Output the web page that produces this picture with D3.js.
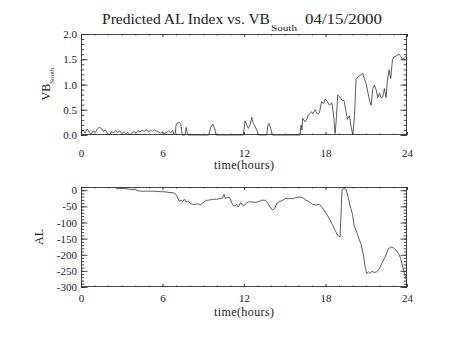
<!DOCTYPE html>
<html><head><meta charset="utf-8">
<script src="https://cdn.jsdelivr.net/npm/d3@7"></script>
<style>
html,body{margin:0;padding:0;background:#fff;}
svg{display:block;}
text{font-family:"Liberation Serif","DejaVu Serif",serif;fill:#222;}
</style></head>
<body>
<script>
// ---------------- data ----------------
const titleMain = "Predicted AL Index vs. VB";
const titleSub = "South";
const titleDate = "04/15/2000";
const xLabel = "time(hours)";
const xTicks = [0, 6, 12, 18, 24];
const vbTicks = [0.0, 0.5, 1.0, 1.5, 2.0];
const alTicks = [-300, -250, -200, -150, -100, -50, 0];

const vbTime = [0.0,0.15,0.3,0.45,0.6,0.75,0.9,1.05,1.2,1.35,1.5,1.65,1.8,1.95,2.1,2.25,2.4,2.55,2.7,2.85,
  3.0,3.15,3.3,3.45,3.6,3.75,3.9,4.05,4.2,4.35,4.5,4.65,4.8,4.95,5.1,5.25,5.4,5.55,5.7,5.85,
  6.0,6.15,6.3,6.45,6.6,6.75,6.85,6.95,7.0,7.1,7.25,7.35,7.45,7.65,7.75,7.85,9.4,9.55,9.7,9.85,9.95,
  11.95,12.08,12.2,12.32,12.45,12.57,12.69,12.81,12.94,13.06,13.67,13.77,13.85,13.97,14.09,
  16.12,16.2,16.27,16.32,16.5,16.62,16.74,16.86,16.98,17.06,17.23,17.4,17.55,17.72,17.85,17.97,
  18.14,18.29,18.46,18.58,18.71,18.78,18.9,19.07,19.2,19.37,19.51,19.61,19.76,19.88,20.01,
  20.13,20.25,20.42,20.6,20.74,20.87,20.99,21.11,21.23,21.36,21.48,21.6,21.73,21.85,21.97,
  22.09,22.22,22.34,22.46,22.56,22.68,22.8,22.93,23.05,23.24,23.41,23.54,23.66,23.78,23.91,24.0];
const vbValue = [0.05,0.10,0.04,0.12,0.06,0.02,0.08,0.05,0.12,0.15,0.13,0.07,0.10,0.02,0.00,0.07,0.04,0.09,0.05,0.08,
  0.03,0.06,0.02,0.05,0.00,0.04,0.07,0.04,0.09,0.06,0.10,0.07,0.11,0.06,0.09,0.07,0.10,0.08,0.06,0.04,
  0.06,0.03,0.05,0.08,0.04,0.09,0.00,0.04,0.20,0.24,0.25,0.22,0.00,0.00,0.15,0.00,0.00,0.15,0.22,0.12,0.00,
  0.00,0.28,0.20,0.13,0.20,0.35,0.23,0.17,0.10,0.00,0.00,0.20,0.23,0.13,0.00,
  0.00,0.20,0.10,0.33,0.26,0.31,0.40,0.43,0.46,0.42,0.50,0.42,0.44,0.66,0.62,0.71,
  0.66,0.59,0.64,0.43,0.03,0.26,0.79,0.75,0.69,0.68,0.46,0.31,0.38,0.17,0.00,
  0.36,1.10,1.16,1.19,1.22,1.10,1.02,0.86,0.69,0.59,0.92,0.99,0.89,0.74,0.83,
  0.74,0.76,0.92,0.74,1.09,1.29,1.12,1.49,1.55,1.57,1.60,1.56,1.49,1.52,1.55,1.52];

const alTime = [2.58,2.87,3.24,3.61,3.98,4.23,4.47,4.84,5.33,5.7,6.19,6.55,6.8,7.0,7.09,7.24,7.36,7.48,7.61,7.73,
  7.9,8.07,8.22,8.39,8.59,8.76,8.96,9.13,9.3,9.5,9.74,9.99,10.23,10.43,10.53,10.63,10.77,10.92,11.07,11.17,
  11.31,11.46,11.58,11.76,11.95,12.15,12.32,12.57,12.81,13.06,13.3,13.55,13.72,13.92,14.1,14.26,14.41,14.6,14.85,15.02,
  15.27,15.64,15.88,16.12,16.37,16.57,16.82,17.06,17.31,17.55,17.72,17.97,18.21,18.46,18.71,18.88,19.07,19.15,19.22,19.37,
  19.51,19.63,19.8,20.0,20.1,20.25,20.42,20.6,20.79,20.92,21.04,21.16,21.28,21.41,21.58,21.78,21.97,22.14,22.39,22.63,
  22.8,23.0,23.2,23.37,23.54,23.69,23.81,23.93];
const alValue = [5,5,5,3,2,-2,-3,-3,-3,-4,-5,-7,-8,-13,-21,-34,-31,-36,-28,-36,
  -34,-41,-44,-44,-42,-46,-40,-34,-31,-30,-28,-28,-26,-24,-13,-26,-22,-22,-36,-46,
  -49,-44,-52,-38,-49,-41,-36,-36,-38,-36,-31,-31,-38,-52,-62,-57,-41,-36,-31,-26,
  -26,-26,-22,-21,-24,-31,-36,-44,-46,-44,-52,-67,-83,-103,-124,-139,-145,-67,3,5,
  3,-15,-46,-77,-108,-124,-145,-165,-201,-238,-258,-253,-258,-251,-255,-253,-243,-227,-207,-181,
  -176,-179,-186,-196,-212,-238,-258,-276];

// ---------------- layout ----------------
const W = 454, H = 341;
const L = 81, R = 407;
const INK = "#333";
const svg = d3.select("body").append("svg").attr("width", W).attr("height", H);

function panel(top, bottom, yDomain, yMajor, yMinorStep, yFmt, times, values, tickPad) {
  const x = d3.scaleLinear().domain([0, 24]).range([L, R]);
  const y = d3.scaleLinear().domain(yDomain).range([bottom, top]);
  const g = svg.append("g");
  const xMinor = d3.range(0, 24.001, 1);
  const yMinor = d3.range(yDomain[0], yDomain[1] + 1e-9, yMinorStep);
  const minorX = 1.5, majorX = 3, minorY = 3.3, majorY = 6.5;

  g.append("g").attr("transform", `translate(0,${bottom})`)
    .call(d3.axisBottom(x).tickValues(xMinor).tickSizeInner(-minorX).tickSizeOuter(0).tickFormat(""));
  g.append("g").attr("transform", `translate(0,${top})`)
    .call(d3.axisTop(x).tickValues(xMinor).tickSizeInner(-minorX).tickSizeOuter(0).tickFormat(""));
  g.append("g").attr("transform", `translate(${L},0)`)
    .call(d3.axisLeft(y).tickValues(yMinor).tickSizeInner(-minorY).tickSizeOuter(0).tickFormat(""));
  g.append("g").attr("transform", `translate(${R},0)`)
    .call(d3.axisRight(y).tickValues(yMinor).tickSizeInner(-minorY).tickSizeOuter(0).tickFormat(""));
  g.append("g").attr("transform", `translate(0,${bottom})`)
    .call(d3.axisBottom(x).tickValues(xTicks).tickSizeInner(-majorX).tickSizeOuter(0).tickPadding(tickPad).tickFormat(d3.format("d")));
  g.append("g").attr("transform", `translate(0,${top})`)
    .call(d3.axisTop(x).tickValues(xTicks).tickSizeInner(-majorX).tickSizeOuter(0).tickFormat(""));
  g.append("g").attr("transform", `translate(${L},0)`)
    .call(d3.axisLeft(y).tickValues(yMajor).tickSizeInner(-majorY).tickSizeOuter(0).tickPadding(4).tickFormat(yFmt));
  g.append("g").attr("transform", `translate(${R},0)`)
    .call(d3.axisRight(y).tickValues(yMajor).tickSizeInner(-majorY).tickSizeOuter(0).tickFormat(""));
  g.selectAll(".domain").remove();
  g.selectAll(".tick line").attr("stroke", INK).attr("stroke-width", 0.9);
  g.selectAll(".tick text").style("font-family", "Liberation Serif, serif").style("font-size", "11px").attr("fill", "#222");

  g.append("rect").attr("x", L + 0.5).attr("y", top + 0.5).attr("width", R - L - 1).attr("height", bottom - top - 1)
    .attr("fill", "none").attr("stroke", INK).attr("stroke-width", 0.9);

  const pts = times.map((t, i) => [t, values[i]]);
  g.append("path").datum(pts)
    .attr("d", d3.line().x(d => x(d[0])).y(d => y(d[1])))
    .attr("fill", "none").attr("stroke", INK).attr("stroke-width", 0.8)
    .attr("stroke-linejoin", "round");
  return {x, y};
}

panel(34, 135, [0, 2], vbTicks, 0.1, d3.format(".1f"), vbTime, vbValue, 14);
panel(187, 287, [-300, 10], alTicks, 10, d => d3.format("d")(d).replace("−", "-"), alTime, alValue, 7);

svg.append("text").attr("x", 244).attr("y", 169).attr("text-anchor", "middle")
  .style("font-size", "12px").attr("textLength", 60).text(xLabel);
svg.append("text").attr("x", 244).attr("y", 316).attr("text-anchor", "middle")
  .style("font-size", "12px").attr("textLength", 60).text(xLabel);

const vb = svg.append("text").attr("transform", "translate(50,84) rotate(-90)").attr("text-anchor", "middle")
  .style("font-size", "12px");
vb.append("tspan").text("VB");
vb.append("tspan").attr("dy", 4).style("font-size", "7px").text("South");
svg.append("text").attr("transform", "translate(43,237) rotate(-90)").attr("text-anchor", "middle")
  .style("font-size", "12px").text("AL");

svg.append("text").attr("x", 102).attr("y", 24).style("font-size", "14px")
  .attr("textLength", 168).attr("lengthAdjust", "spacingAndGlyphs").text(titleMain);
svg.append("text").attr("x", 271).attr("y", 31).style("font-size", "8px")
  .attr("textLength", 26).attr("lengthAdjust", "spacingAndGlyphs").text(titleSub);
svg.append("text").attr("x", 305).attr("y", 24).style("font-size", "14px")
  .attr("textLength", 77).attr("lengthAdjust", "spacingAndGlyphs").text(titleDate);
</script>
</body></html>
